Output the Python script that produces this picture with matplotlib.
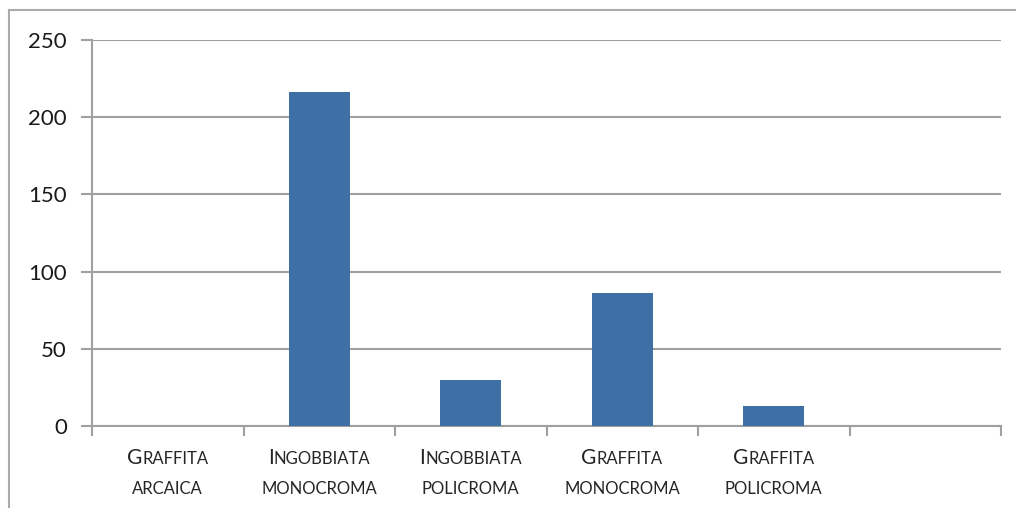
import matplotlib
matplotlib.use("Agg")
import matplotlib.pyplot as plt
from matplotlib.lines import Line2D
from matplotlib.offsetbox import TextArea, HPacker, VPacker, AnnotationBbox

# dati
categorie = [("Graffita", "arcaica"), ("Ingobbiata", "monocroma"),
             ("Ingobbiata", "policroma"), ("Graffita", "monocroma"),
             ("Graffita", "policroma"), ("", "")]
valori = [0, 216, 30, 86, 13, None]
yticks = [0, 50, 100, 150, 200, 250]

plt.rcParams['font.family'] = ['Lato', 'DejaVu Sans']

fig = plt.figure(figsize=(10.16, 5.08), dpi=100)
ax = fig.add_axes([92 / 1016, 1 - 426 / 508, (1001 - 92) / 1016, (426 - 40) / 508])

grigio = '#A0A0A0'
blu = '#3E70A6'

xs = list(range(len(categorie)))
for x, v in zip(xs, valori):
    if v is not None:
        ax.bar(x, v, width=0.4, color=blu, zorder=3)

ax.set_xlim(-0.5, len(categorie) - 0.5)
ax.set_ylim(0, 250)
ax.set_yticks(yticks)
ax.set_yticklabels([str(t) for t in yticks], fontsize=16, color='#1a1a1a')
ax.yaxis.grid(True, color=grigio, linewidth=1.5, zorder=0)
ax.tick_params(axis='y', length=8, width=1.5, color=grigio, pad=10)

# tick tra le categorie
ax.set_xticks([x - 0.5 for x in xs] + [len(categorie) - 0.5])
ax.set_xticklabels([])
ax.tick_params(axis='x', length=7, width=1.5, color=grigio)

for s in ['top', 'right']:
    ax.spines[s].set_visible(False)
for s in ['left', 'bottom']:
    ax.spines[s].set_color(grigio)
    ax.spines[s].set_linewidth(1.5)

# etichette in maiuscoletto
grande = dict(fontsize=15, color='#262626')
piccolo = dict(fontsize=12, color='#262626')
for x, (w1, w2) in zip(xs, categorie):
    if not w1:
        continue
    riga1 = HPacker(children=[TextArea(w1[0].upper(), textprops=grande),
                              TextArea(w1[1:].upper(), textprops=piccolo)],
                    align='baseline', pad=0, sep=0)
    riga2 = TextArea(w2.upper(), textprops=piccolo)
    blocco = VPacker(children=[riga1, riga2], align='center', pad=0, sep=10)
    ab = AnnotationBbox(blocco, (x, 0), xycoords=('data', 'axes fraction'),
                        xybox=(0, -15.5), boxcoords='offset points',
                        box_alignment=(0.5, 1), frameon=False, pad=0)
    ax.add_artist(ab)

# cornice esterna
fig.add_artist(Line2D([9 / 1016, 1], [1 - 10 / 508, 1 - 10 / 508],
                      color='#ABABAB', linewidth=1.5, transform=fig.transFigure))
fig.add_artist(Line2D([9 / 1016, 9 / 1016], [0, 1 - 10 / 508],
                      color='#ABABAB', linewidth=1.5, transform=fig.transFigure))

fig.savefig('out.png', dpi=100)
